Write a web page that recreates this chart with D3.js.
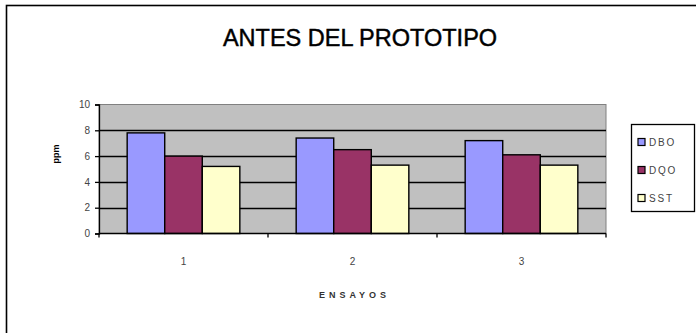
<!DOCTYPE html>
<html>
<head>
<meta charset="utf-8">
<script src="https://cdn.jsdelivr.net/npm/d3@7"></script>
<style>
  html, body { margin: 0; padding: 0; background: #fff; }
  svg { display: block; }
</style>
</head>
<body>
<script>
// Ensayos y concentraciones (ppm) medidas antes del prototipo
const categories = ["1", "2", "3"];
const seriesNames = ["DBO", "DQO", "SST"];
const dboValues = [7.8, 7.4, 7.2];
const dqoValues = [6.0, 6.5, 6.1];
const sstValues = [5.2, 5.3, 5.3];
const yTicks = [0, 2, 4, 6, 8, 10];
const seriesColors = ["#9999FF", "#993366", "#FFFFCC"];

const seriesValues = [dboValues, dqoValues, sstValues];
const rows = categories.map((c, i) => ({
  cat: c,
  vals: seriesNames.map((s, j) => ({ key: s, value: seriesValues[j][i] }))
}));

const W = 696, H = 333;
const plot = { left: 99, right: 606, top: 104.5, bottom: 233.5 };
const FONT = "Liberation Sans, Arial, sans-serif";

const svg = d3.select("body").append("svg").attr("width", W).attr("height", H);

// outer chart frame (only top and left edges fall inside the view)
svg.append("rect")
  .attr("x", 6.5).attr("y", 5.5)
  .attr("width", W + 20).attr("height", H + 20)
  .attr("fill", "#fff").attr("stroke", "#000").attr("stroke-width", 1.6);

// title
svg.append("text")
  .attr("x", 360).attr("y", 46)
  .attr("text-anchor", "middle")
  .attr("font-family", FONT)
  .attr("font-size", 23.5)
  .attr("fill", "#000").attr("stroke", "#000").attr("stroke-width", 0.45)
  .text("ANTES DEL PROTOTIPO");

const x0 = d3.scaleBand().domain(categories).range([plot.left, plot.right]).paddingInner(0).paddingOuter(0);
const bandW = x0.bandwidth();
// gap width ~150% of a bar: group = 3 bars, gap = 1.5 bars
const barW = bandW / 4.5;
const x1 = d3.scaleBand().domain(seriesNames)
  .range([bandW * 0.75 / 4.5, bandW * 0.75 / 4.5 + 3 * barW]);
const y = d3.scaleLinear().domain([0, 10]).range([plot.bottom, plot.top]);
const color = d3.scaleOrdinal().domain(seriesNames).range(seriesColors);

// plot background
svg.append("rect")
  .attr("x", plot.left).attr("y", plot.top)
  .attr("width", plot.right - plot.left).attr("height", plot.bottom - plot.top)
  .attr("fill", "#C0C0C0").attr("stroke", "#808080").attr("stroke-width", 1);

// horizontal gridlines
svg.append("g")
  .selectAll("line")
  .data(yTicks.filter(t => t > 0 && t < 10))
  .join("line")
  .attr("x1", plot.left).attr("x2", plot.right)
  .attr("y1", d => Math.round(y(d)) + 0.5).attr("y2", d => Math.round(y(d)) + 0.5)
  .attr("stroke", "#000").attr("stroke-width", 1.3);

// bars
svg.append("g")
  .selectAll("g")
  .data(rows)
  .join("g")
  .attr("transform", d => `translate(${x0(d.cat)},0)`)
  .selectAll("rect")
  .data(d => d.vals)
  .join("rect")
  .attr("x", d => x1(d.key))
  .attr("y", d => y(d.value))
  .attr("width", x1.bandwidth())
  .attr("height", d => y(0) - y(d.value))
  .attr("fill", d => color(d.key))
  .attr("stroke", "#000").attr("stroke-width", 1.4);

// y axis
const yAxis = d3.axisLeft(y).tickValues(yTicks).tickSize(4).tickPadding(5);
const gy = svg.append("g").attr("transform", `translate(${plot.left},0)`).call(yAxis);
gy.select(".domain").attr("stroke", "#000").attr("stroke-width", 1.3);
gy.selectAll(".tick line").attr("stroke", "#000").attr("stroke-width", 1.3);
gy.selectAll("text")
  .attr("font-family", FONT)
  .attr("font-size", 10).attr("fill", "#444");

// x axis with ticks between categories
const xAxisG = svg.append("g").attr("transform", `translate(0,${plot.bottom})`);
xAxisG.append("line")
  .attr("x1", plot.left).attr("x2", plot.right)
  .attr("stroke", "#000").attr("stroke-width", 1.3);
const bounds = categories.map(c => x0(c)).concat([plot.right]);
xAxisG.selectAll("line.tk")
  .data(bounds)
  .join("line").attr("class", "tk")
  .attr("x1", d => d).attr("x2", d => d)
  .attr("y1", 0).attr("y2", 4)
  .attr("stroke", "#000").attr("stroke-width", 1.3);
xAxisG.selectAll("text")
  .data(categories)
  .join("text")
  .attr("x", d => x0(d) + bandW / 2)
  .attr("y", 31)
  .attr("text-anchor", "middle")
  .attr("font-family", FONT)
  .attr("font-size", 10).attr("fill", "#444")
  .text(d => d);

// axis titles
svg.append("text")
  .attr("x", (plot.left + plot.right) / 2 + 2).attr("y", 298)
  .attr("text-anchor", "middle")
  .attr("font-family", FONT)
  .attr("font-size", 9).attr("font-weight", "bold")
  .attr("letter-spacing", 4).attr("fill", "#333")
  .text("ENSAYOS");

svg.append("text")
  .attr("transform", "translate(59,154) rotate(-90)")
  .attr("text-anchor", "middle")
  .attr("font-family", FONT)
  .attr("font-size", 9).attr("font-weight", "bold")
  .attr("fill", "#000")
  .text("ppm");

// legend
const lg = svg.append("g");
lg.append("rect")
  .attr("x", 631.5).attr("y", 124.5).attr("width", 63).attr("height", 87)
  .attr("fill", "#fff").attr("stroke", "#000").attr("stroke-width", 1.3);
const items = lg.selectAll("g.item")
  .data(seriesNames)
  .join("g").attr("class", "item")
  .attr("transform", (d, i) => `translate(638,${142 + i * 28})`);
items.append("rect")
  .attr("x", 0).attr("y", -3.5).attr("width", 7).attr("height", 7)
  .attr("fill", d => color(d)).attr("stroke", "#000").attr("stroke-width", 1.2);
items.append("text")
  .attr("x", 11).attr("y", 4)
  .attr("font-family", FONT)
  .attr("font-size", 10).attr("letter-spacing", 1.8).attr("fill", "#444")
  .text(d => d);
</script>
</body>
</html>
